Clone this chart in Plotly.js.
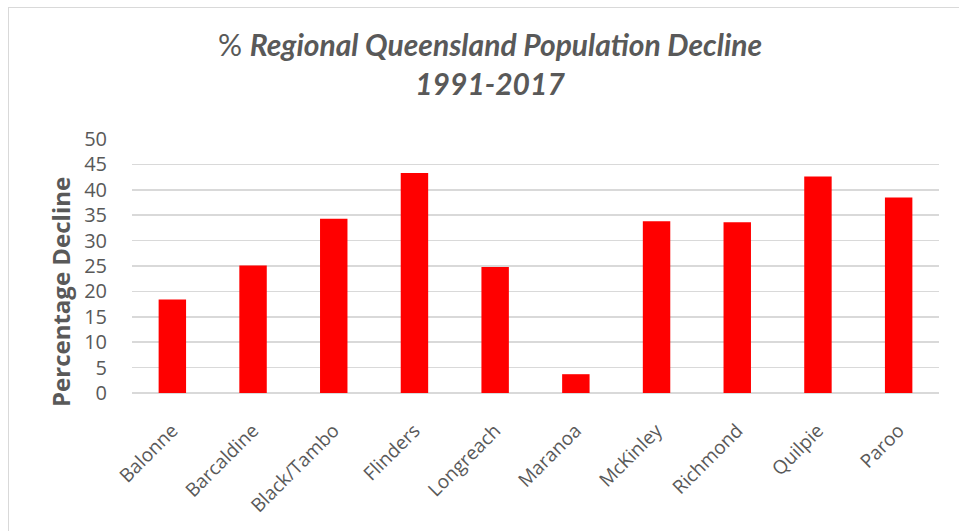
<!DOCTYPE html>
<html>
<head>
<meta charset="utf-8">
<script src="https://cdn.plot.ly/plotly-3.0.1.min.js"></script>
<style>
  html, body { margin: 0; padding: 0; background: #fff; }
  #wrap { position: relative; width: 959px; height: 531px; }
  #frame { position: absolute; left: 8px; top: 7px; width: 951px; height: 524px;
           border-left: 1.5px solid #d9d9d9; border-top: 1.5px solid #d9d9d9; pointer-events: none; box-sizing: border-box; }
  #chart { position: absolute; left: 0; top: 0; width: 959px; height: 531px; }
</style>
</head>
<body>
<div id="wrap">
  <div id="chart"></div>
  <div id="frame"></div>
</div>
<script>
const regions = ["Balonne", "Barcaldine", "Black/Tambo", "Flinders", "Longreach",
                 "Maranoa", "McKinley", "Richmond", "Quilpie", "Paroo"];
const declinePct = [18.4, 25.1, 34.3, 43.3, 24.8, 3.7, 33.8, 33.6, 42.6, 38.5];
const yTicks = [0, 5, 10, 15, 20, 25, 30, 35, 40, 45, 50];
const titleLine1 = "% <b><i>Regional Queensland Population Decline</i></b>";
const titleLine2 = "<b><i>1991-2017</i></b>";
const yTitle = "Percentage Decline";

const trace = {
  type: "bar",
  x: regions,
  y: declinePct,
  marker: { color: "#ff0000" },
  hoverinfo: "x+y"
};

const layout = {
  width: 959,
  height: 531,
  margin: { l: 132, r: 20, t: 139, b: 138 },
  paper_bgcolor: "#ffffff",
  plot_bgcolor: "#ffffff",
  bargap: 0.66,
  showlegend: false,
  title: {
    text: titleLine1 + "<br>" + titleLine2,
    font: { family: "Lato, 'Open Sans', sans-serif", size: 30, color: "#595959" },
    x: 490 / 959, xref: "container", xanchor: "center",
    y: 0.894, yref: "container", yanchor: "top"
  },
  xaxis: {
    type: "category",
    tickangle: -45,
    ticks: "outside",
    ticklen: 18,
    tickcolor: "rgba(0,0,0,0)",
    tickfont: { family: "'Open Sans', sans-serif", size: 19, color: "#595959" },
    showline: false,
    showgrid: false,
    zeroline: false,
    fixedrange: true
  },
  yaxis: {
    range: [0, 50],
    tickvals: yTicks,
    ticktext: yTicks.map(String),
    ticks: "outside",
    ticklen: 20,
    tickcolor: "rgba(0,0,0,0)",
    tickfont: { family: "'Open Sans', sans-serif", size: 20, color: "#595959" },
    showgrid: true,
    gridcolor: "#d9d9d9",
    gridwidth: 1.5,
    zeroline: true,
    zerolinecolor: "#d9d9d9",
    zerolinewidth: 1.5,
    showline: false,
    fixedrange: true
  },
  annotations: [{
    text: "<b>" + yTitle + "</b>",
    textangle: -90,
    xref: "paper", yref: "paper",
    x: (60 - 132) / 807, y: (393 - 292) / 254,
    xanchor: "center", yanchor: "middle",
    showarrow: false,
    font: { family: "'Open Sans', sans-serif", size: 24, color: "#595959" }
  }]
};

Plotly.newPlot("chart", [trace], layout, { displayModeBar: false, staticPlot: true });
</script>
</body>
</html>
